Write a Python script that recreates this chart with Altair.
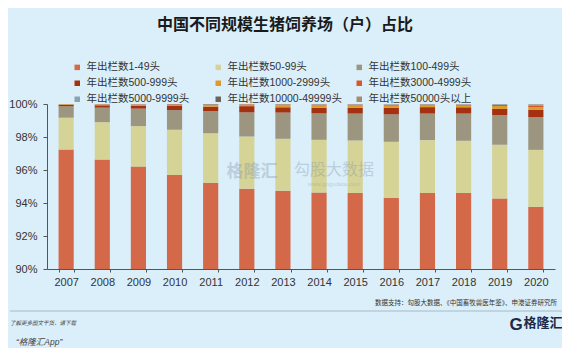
import altair as alt
import pandas as pd

years = ["2007", "2008", "2009", "2010", "2011", "2012", "2013",
         "2014", "2015", "2016", "2017", "2018", "2019", "2020"]

categories = ["年出栏数1-49头", "年出栏数50-99头", "年出栏数100-499头",
              "年出栏数500-999头", "年出栏数1000-2999头", "年出栏数3000-4999头",
              "年出栏数5000-9999头", "年出栏数10000-49999头", "年出栏数50000头以上"]

colors = ["#d4694a", "#d6d396", "#9c957f", "#a4310f", "#dc9b2c",
          "#d9562b", "#8aa3b2", "#6a655a", "#a38d6e"]

# legend is laid out column by column, so list entries so rows read like the original
legend_order = [0, 3, 6, 1, 4, 7, 2, 5, 8]

s_1_49 = [97.24, 96.63, 96.21, 95.70, 95.23, 94.87, 94.75, 94.64, 94.61, 94.32, 94.61, 94.61, 94.28, 93.77]
s_50_99 = [1.93, 2.27, 2.45, 2.74, 3.00, 3.16, 3.14, 3.19, 3.18, 3.39, 3.20, 3.16, 3.25, 3.45]
s_100_499 = [0.69, 0.88, 1.06, 1.19, 1.34, 1.46, 1.59, 1.60, 1.63, 1.66, 1.61, 1.65, 1.80, 1.99]
s_500_999 = [0.08, 0.14, 0.16, 0.25, 0.27, 0.38, 0.32, 0.35, 0.36, 0.41, 0.39, 0.38, 0.37, 0.43]
s_1000_2999 = [0.04, 0.05, 0.08, 0.07, 0.10, 0.08, 0.13, 0.13, 0.13, 0.12, 0.10, 0.10, 0.18, 0.17]
s_3000_4999 = [0.01, 0.02, 0.02, 0.03, 0.03, 0.03, 0.04, 0.05, 0.05, 0.05, 0.05, 0.05, 0.06, 0.07]
s_5000_9999 = [0.006, 0.008, 0.01, 0.01, 0.015, 0.015, 0.015, 0.02, 0.02, 0.02, 0.02, 0.02, 0.03, 0.05]
s_10000_49999 = [0.003, 0.004, 0.005, 0.006, 0.008, 0.008, 0.009, 0.01, 0.01, 0.012, 0.012, 0.012, 0.015, 0.03]
s_50000 = [0.001, 0.001, 0.001, 0.001, 0.002, 0.002, 0.002, 0.003, 0.003, 0.004, 0.004, 0.004, 0.006, 0.02]

series = [s_1_49, s_50_99, s_100_499, s_500_999, s_1000_2999,
          s_3000_4999, s_5000_9999, s_10000_49999, s_50000]

rows = []
for ci, (cat, vals) in enumerate(zip(categories, series)):
    for y, v in zip(years, vals):
        rows.append({"year": y, "cat": cat, "idx": ci, "value": v})
df = pd.DataFrame(rows)

legend_domain = [categories[i] for i in legend_order]
legend_range = [colors[i] for i in legend_order]

FONT = "Liberation Sans, Noto Sans CJK SC"

bars = alt.Chart(df).mark_bar(clip=True).encode(
    x=alt.X("year:O", sort=years,
            scale=alt.Scale(paddingInner=0.58, paddingOuter=0.32),
            axis=alt.Axis(title=None, labelAngle=0, tickBand="extent",
                          labelFontSize=11, labelColor="#333333",
                          domainColor="#555555", tickColor="#555555",
                          tickSize=3, labelPadding=4, labelFont=FONT)),
    y=alt.Y("value:Q", stack="zero",
            scale=alt.Scale(domain=[90, 100], nice=False, zero=False),
            axis=alt.Axis(title=None, values=[90, 92, 94, 96, 98, 100],
                          labelExpr="datum.value + '%'", grid=False,
                          labelFontSize=11, labelColor="#333333",
                          domainColor="#555555", tickColor="#555555",
                          tickSize=4, labelPadding=6, labelFont=FONT)),
    color=alt.Color("cat:N",
                    scale=alt.Scale(domain=legend_domain, range=legend_range),
                    legend=alt.Legend(title=None, orient="none", legendX=25, legendY=-42,
                                      columns=3, gridAlign="all", columnPadding=12,
                                      rowPadding=5, symbolType="square", symbolSize=30,
                                      symbolStrokeWidth=0, labelFontSize=10.5,
                                      labelColor="#333333", labelFont=FONT,
                                      labelOffset=4, padding=0)),
    order=alt.Order("idx:Q", sort="ascending"),
)

one = pd.DataFrame({"k": [0]})

def label(text, x, y, size, color="#333333", align="center", weight="normal",
          style="normal", opacity=1.0):
    return alt.Chart(one).mark_text(
        text=text, align=align, baseline="middle", fontSize=size, color=color,
        fontWeight=weight, fontStyle=style, opacity=opacity, font=FONT
    ).encode(x=alt.value(x), y=alt.value(y))

title = label("中国不同规模生猪饲养场（户）占比", 238, -79, 16, "#1a1a1a", weight="bold")
source = label("数据支持：勾股大数据、《中国畜牧兽医年鉴》、申港证券研究所", 510, 199, 6.5,
               "#333333", align="right")
rule = alt.Chart(one).mark_rule(color="#a9b8c4", strokeWidth=1).encode(
    x=alt.value(-37), x2=alt.value(515), y=alt.value(207))
note1 = label("了解更多图文干货，请下载", -37, 219, 5.5, "#444444", align="left", style="italic")
note2 = label("“格隆汇App”", -31, 238, 8.5, "#444444", align="left", style="italic")
logo_g = label("G", 469, 221, 17, "#1d2a44", weight="bold")
logo_t = label("格隆汇", 496, 219, 13, "#1d2a44", weight="bold")
wm1 = label("格隆汇", 205, 68, 17, "#7f93a8", weight="bold", opacity=0.35)
wm2 = label("勾股大数据", 287, 66, 16, "#7f93a8", opacity=0.35)
wm3 = label("www.gogudata.com", 287, 80, 6, "#7f93a8", opacity=0.35)

chart = alt.layer(bars, title, source, rule, note1, note2, logo_g, logo_t, wm1, wm2, wm3).properties(
    width=508, height=165,
    autosize=alt.AutoSizeParams(type="none"),
    padding={"left": 39, "top": 96, "right": 7, "bottom": 79},
    background="#dbeffa",
).configure_view(stroke=None)

chart.save("out.html", embed_options={"renderer": "svg", "actions": False})
